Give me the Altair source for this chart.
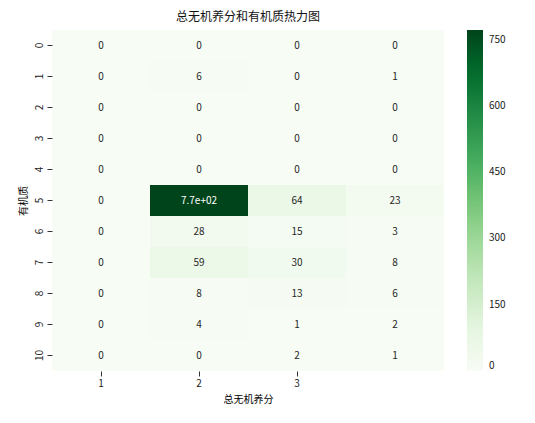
import altair as alt
import pandas as pd

rows = ["0", "1", "2", "3", "4", "5", "6", "7", "8", "9", "10"]
cols = ["1", "2", "3", "4"]
col1 = [0, 0, 0, 0, 0, 0, 0, 0, 0, 0, 0]
col2 = [0, 6, 0, 0, 0, 772, 28, 59, 8, 4, 0]
col3 = [0, 0, 0, 0, 0, 64, 15, 30, 13, 1, 2]
col4 = [0, 1, 0, 0, 0, 23, 3, 8, 6, 2, 1]

greens = ["#f7fcf5", "#e5f5e0", "#c7e9c0", "#a1d99b", "#74c476",
          "#41ab5d", "#238b45", "#006d2c", "#00441b"]

records = []
for c, vals in zip(cols, [col1, col2, col3, col4]):
    for r, v in zip(rows, vals):
        records.append({"x": c, "y": r, "v": v, "label": f"{v:.2g}"})
df = pd.DataFrame(records)

FONT = "Noto Sans CJK SC"
vmax = 772
stops = [vmax * i / (len(greens) - 1) for i in range(len(greens))]
cscale = alt.Scale(type="linear", domain=stops, range=greens, interpolate="rgb")

base = alt.Chart(df)
heat = base.mark_rect().encode(
    x=alt.X("x:O", sort=cols, scale=alt.Scale(paddingInner=0, paddingOuter=0),
            axis=alt.Axis(values=["1", "2", "3"], labelAngle=0, title="总无机养分",
                          domain=False, tickSize=5, tickColor="#333", labelColor="#222",
                          labelFontSize=10, titleFontSize=10, titleFontWeight="normal",
                          labelFont=FONT, titleFont=FONT, titlePadding=6, labelPadding=2)),
    y=alt.Y("y:O", sort=rows, scale=alt.Scale(paddingInner=0, paddingOuter=0),
            axis=alt.Axis(labelAngle=270, title="有机质", domain=False, tickSize=5,
                          tickColor="#333", labelColor="#222", labelFontSize=10,
                          titleFontSize=10, titleFontWeight="normal", labelFont=FONT,
                          titleFont=FONT, labelAlign="center", labelBaseline="bottom",
                          labelPadding=3, titlePadding=6)),
    color=alt.Color("v:Q", scale=cscale,
                    legend=alt.Legend(type="gradient", title=None, orient="none",
                                      legendX=415, legendY=0,
                                      direction="vertical", gradientLength=341,
                                      gradientThickness=16, values=[0, 150, 300, 450, 600, 750],
                                      labelFontSize=10, labelFont=FONT, labelColor="#222",
                                      gradientStrokeWidth=0, labelOffset=6)),
)
text = base.mark_text(fontSize=10, font=FONT).encode(
    x=alt.X("x:O", sort=cols),
    y=alt.Y("y:O", sort=rows),
    text="label:N",
    color=alt.condition(alt.datum.v > 400, alt.value("white"), alt.value("#262626")),
)

chart = (heat + text).properties(
    width=392, height=341,
    title=alt.Title("总无机养分和有机质热力图", font=FONT, fontSize=12,
                    fontWeight="normal", color="#111", offset=6),
    autosize=alt.AutoSizeParams(type="none"),
    padding={"left": 52, "top": 30, "right": 91, "bottom": 52},
).configure_view(stroke=None)

chart.save("out.html", embed_options={"renderer": "svg", "actions": False})
